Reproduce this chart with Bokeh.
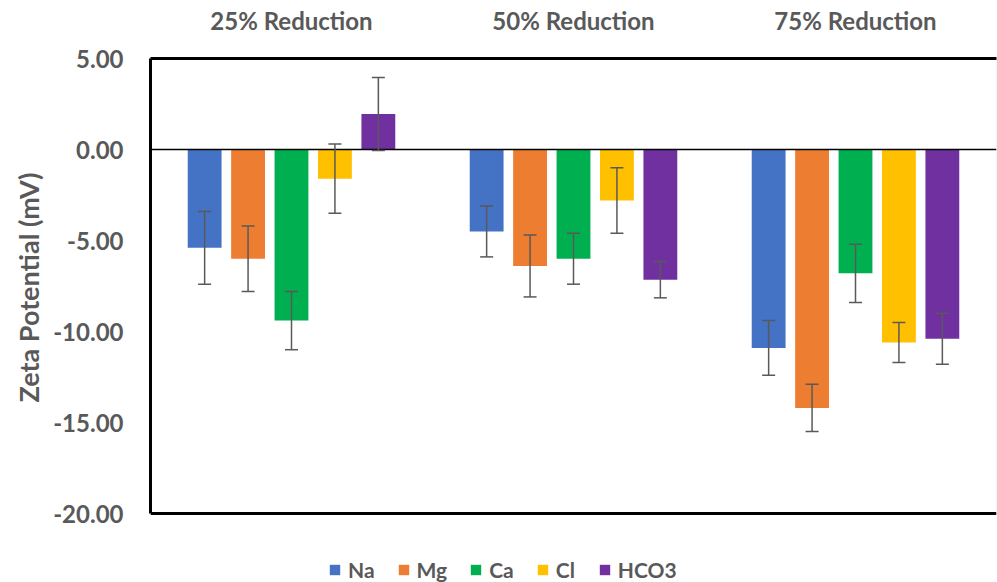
from bokeh.plotting import figure
from bokeh.models import (FactorRange, Range1d, Whisker, TeeHead, ColumnDataSource, Span, Title,
                          Legend, LegendItem, BoxAnnotation, NumeralTickFormatter, FixedTicker)
from bokeh.transform import dodge
from bokeh.embed import file_html
from bokeh.resources import INLINE

groups = ["25% Reduction", "50% Reduction", "75% Reduction"]
series = ["Na", "Mg", "Ca", "Cl", "HCO3"]
na = [-5.4, -4.5, -10.9]
na_err = [2.0, 1.4, 1.5]
mg = [-6.0, -6.4, -14.2]
mg_err = [1.8, 1.7, 1.3]
ca = [-9.4, -6.0, -6.8]
ca_err = [1.6, 1.4, 1.6]
cl = [-1.6, -2.8, -10.6]
cl_err = [1.9, 1.8, 1.1]
hco3 = [1.95, -7.15, -10.4]
hco3_err = [2.0, 1.0, 1.4]
y_ticks = [-20, -15, -10, -5, 0, 5]
y_min, y_max = -20, 5
y_title = "Zeta Potential (mV)"

values = [na, mg, ca, cl, hco3]
errors = [na_err, mg_err, ca_err, cl_err, hco3_err]
colors = ["#4472C4", "#ED7D31", "#00B050", "#FFC000", "#7030A0"]
offsets = [-0.308, -0.154, 0.0, 0.154, 0.308]

FONT = "Lato"
TXT = "#595959"

# frame extends to the page bottom so the legend (inside the frame) stays visible
p = figure(width=997, height=582, x_range=FactorRange(*groups), y_range=Range1d(-23.79, y_max),
           output_backend="svg", toolbar_location=None, x_axis_location="above",
           min_border_left=150, min_border_right=1, min_border_top=58, min_border_bottom=0)
p.xgrid.visible = False
p.ygrid.visible = False
p.outline_line_color = None
p.background_fill_color = "white"

p.add_layout(BoxAnnotation(top=y_max, bottom=y_min, fill_color=None, line_color="#bfbfbf",
                           line_width=1, level="underlay"))

items = []
for name, vals, errs, col, off in zip(series, values, errors, colors, offsets):
    src = ColumnDataSource(dict(grp=groups, val=vals,
                                upper=[v + e for v, e in zip(vals, errs)],
                                lower=[v - e for v, e in zip(vals, errs)]))
    r = p.vbar(x=dodge("grp", off, range=p.x_range), top="val", bottom=0, width=0.12,
               source=src, fill_color=col, line_color=None)
    w = Whisker(base=dodge("grp", off, range=p.x_range), upper="upper", lower="lower",
                source=src, line_color="#595959", line_width=1.5, level="overlay",
                upper_head=TeeHead(size=13, line_color="#595959", line_width=1.5),
                lower_head=TeeHead(size=13, line_color="#595959", line_width=1.5))
    p.add_layout(w)
    items.append(LegendItem(label=name, renderers=[r]))

p.add_layout(Span(location=0, dimension="width", line_color="black", line_width=1.5))
p.add_layout(Span(location=y_min, dimension="width", line_color="black", line_width=3))

# top category axis
xa = p.xaxis[0]
xa.axis_line_width = 3
xa.axis_line_color = "black"
xa.major_tick_line_color = None
xa.minor_tick_line_color = None
xa.major_label_standoff = 18
xa.major_label_text_font = FONT
xa.major_label_text_font_style = "bold"
xa.major_label_text_font_size = "24px"
xa.major_label_text_color = TXT

ya = p.yaxis[0]
ya.ticker = FixedTicker(ticks=y_ticks)
ya.bounds = (y_min, y_max)
ya.formatter = NumeralTickFormatter(format="0.00")
ya.axis_line_width = 3
ya.axis_line_color = "black"
ya.major_tick_line_color = None
ya.minor_tick_line_color = None
ya.major_label_standoff = 21
ya.major_label_text_font = FONT
ya.major_label_text_font_style = "bold"
ya.major_label_text_font_size = "24px"
ya.major_label_text_color = TXT

# y-axis title, positioned along the bounded axis (not the extended frame)
p.add_layout(Title(text=y_title, align="left", offset=180, standoff=12,
                   text_font=FONT, text_font_style="bold", text_font_size="27px",
                   text_color=TXT), "left")

legend = Legend(items=items, orientation="horizontal", location=(178, 0),
                glyph_width=13, glyph_height=13, label_standoff=7, spacing=22,
                label_text_font=FONT, label_text_font_style="bold",
                label_text_font_size="21px", label_text_color=TXT,
                border_line_color=None, background_fill_alpha=0, padding=0, margin=0)
p.add_layout(legend, "center")

open("out.html", "w").write(file_html(p, INLINE))
